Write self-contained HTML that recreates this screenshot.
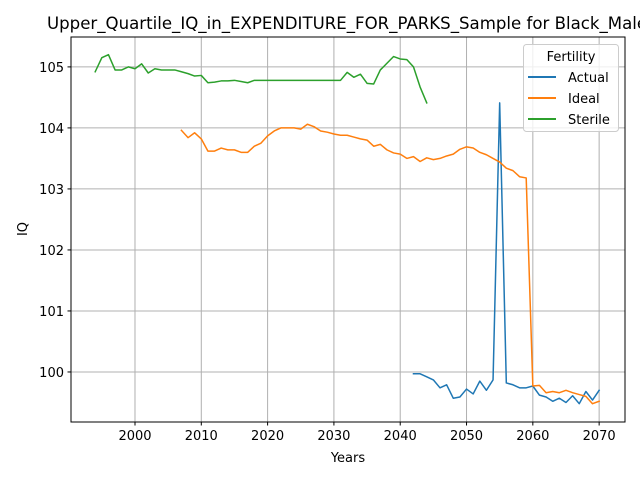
<!DOCTYPE html>
<html><head><meta charset="utf-8"><style>
body{margin:0;background:#fff;}
svg{display:block;font-family:"DejaVu Sans","Liberation Sans",sans-serif;}
</style></head><body>
<svg id="chart" width="640" height="480" viewBox="0 0 640 480">
<rect width="640" height="480" fill="#fff"/>
<text x="47" y="29" font-size="16.6" fill="#000">Upper_Quartile_IQ_in_EXPENDITURE_FOR_PARKS_Sample for Black_Males</text>
<g id="grid"></g>
<g id="series"></g>
<rect x="71" y="37" width="554" height="385" fill="none" stroke="#000" stroke-width="1"/>
<g id="axes"></g>
<text x="348" y="462" font-size="13" text-anchor="middle">Years</text>
<text x="27" y="229" font-size="13" text-anchor="middle" transform="rotate(-90 27 229)">IQ</text>
<g>
<rect x="523.5" y="44.5" width="95" height="87" rx="3" fill="#fff" fill-opacity="0.8" stroke="#ccc"/>
<text x="571" y="61" font-size="13" text-anchor="middle">Fertility</text>
<g><line x1="528" y1="77" x2="556" y2="77" stroke="#1f77b4" stroke-width="2"/><text x="568" y="82" font-size="13">Actual</text></g>
<g><line x1="528" y1="98" x2="556" y2="98" stroke="#ff7f0e" stroke-width="2"/><text x="568" y="103" font-size="13">Ideal</text></g>
<g><line x1="528" y1="119" x2="556" y2="119" stroke="#2ca02c" stroke-width="2"/><text x="568" y="124" font-size="13">Sterile</text></g>
</g>
</svg>
<script>
const xTicks=[2000,2010,2020,2030,2040,2050,2060,2070];
const yTicks=[100,101,102,103,104,105];
const actualStart=2042;
const actualValues=[99.97,99.97,99.92,99.87,99.74,99.79,99.57,99.59,99.72,99.64,99.85,99.7,99.87,104.41,99.82,99.79,99.74,99.74,99.77,99.62,99.59,99.52,99.57,99.5,99.61,99.48,99.68,99.54,99.7];
const idealStart=2007;
const idealValues=[103.96,103.84,103.92,103.82,103.62,103.62,103.67,103.64,103.64,103.6,103.6,103.7,103.75,103.87,103.95,104.0,104.0,104.0,103.98,104.06,104.02,103.95,103.93,103.9,103.88,103.88,103.85,103.82,103.8,103.7,103.73,103.64,103.59,103.57,103.5,103.53,103.45,103.51,103.48,103.5,103.54,103.57,103.65,103.69,103.67,103.6,103.56,103.5,103.44,103.34,103.3,103.2,103.18,99.77,99.78,99.66,99.68,99.66,99.7,99.66,99.63,99.6,99.48,99.52];
const sterileStart=1994;
const sterileValues=[104.92,105.15,105.2,104.95,104.95,105.0,104.97,105.05,104.9,104.97,104.95,104.95,104.95,104.92,104.89,104.85,104.86,104.74,104.75,104.77,104.77,104.78,104.76,104.74,104.78,104.78,104.78,104.78,104.78,104.78,104.78,104.78,104.78,104.78,104.78,104.78,104.78,104.78,104.91,104.83,104.88,104.73,104.72,104.95,105.06,105.17,105.13,105.12,105.0,104.67,104.41];
const NS="http://www.w3.org/2000/svg";
const X0=71,X1=625,Y0=37,Y1=422,xMin=1990.35,xMax=2073.9,yMin=99.18,yMax=105.49;
function xs(v){return X0+(v-xMin)/(xMax-xMin)*(X1-X0);}
function ys(v){return Y1-(v-yMin)/(yMax-yMin)*(Y1-Y0);}
function mk(t,a,p){const e=document.createElementNS(NS,t);for(const k in a)e.setAttribute(k,a[k]);p.appendChild(e);return e;}
const grid=document.getElementById('grid'),axes=document.getElementById('axes'),ser=document.getElementById('series');
xTicks.forEach(t=>{const x=xs(t);
const g=mk('line',{x1:x,x2:x,y1:Y0,y2:Y1,stroke:'#b0b0b0','stroke-width':1},grid);


mk('line',{x1:x,x2:x,y1:Y1,y2:Y1+3.5,stroke:'#000'},axes);
const l=mk('text',{x:x,y:Y1+18,'font-size':13,'text-anchor':'middle'},axes);l.textContent=t;

});
yTicks.forEach(t=>{const y=ys(t);
const g=mk('line',{x1:X0,x2:X1,y1:y,y2:y,stroke:'#b0b0b0','stroke-width':1},grid);


mk('line',{x1:X0-3.5,x2:X0,y1:y,y2:y,stroke:'#000'},axes);
const l=mk('text',{x:X0-7,y:y+5,'font-size':13,'text-anchor':'end'},axes);l.textContent=t;

});
function line(start,vals,color,name){
const pts=vals.map((v,i)=>xs(start+i).toFixed(2)+','+ys(v).toFixed(2)).join(' ');
const p=mk('polyline',{points:pts,fill:'none',stroke:color,'stroke-width':1.5,'stroke-linejoin':'round','stroke-linecap':'square'},ser);

}
line(actualStart,actualValues,'#1f77b4','actual-line');
line(idealStart,idealValues,'#ff7f0e','ideal-line');
line(sterileStart,sterileValues,'#2ca02c','sterile-line');
</script>
</body></html>
